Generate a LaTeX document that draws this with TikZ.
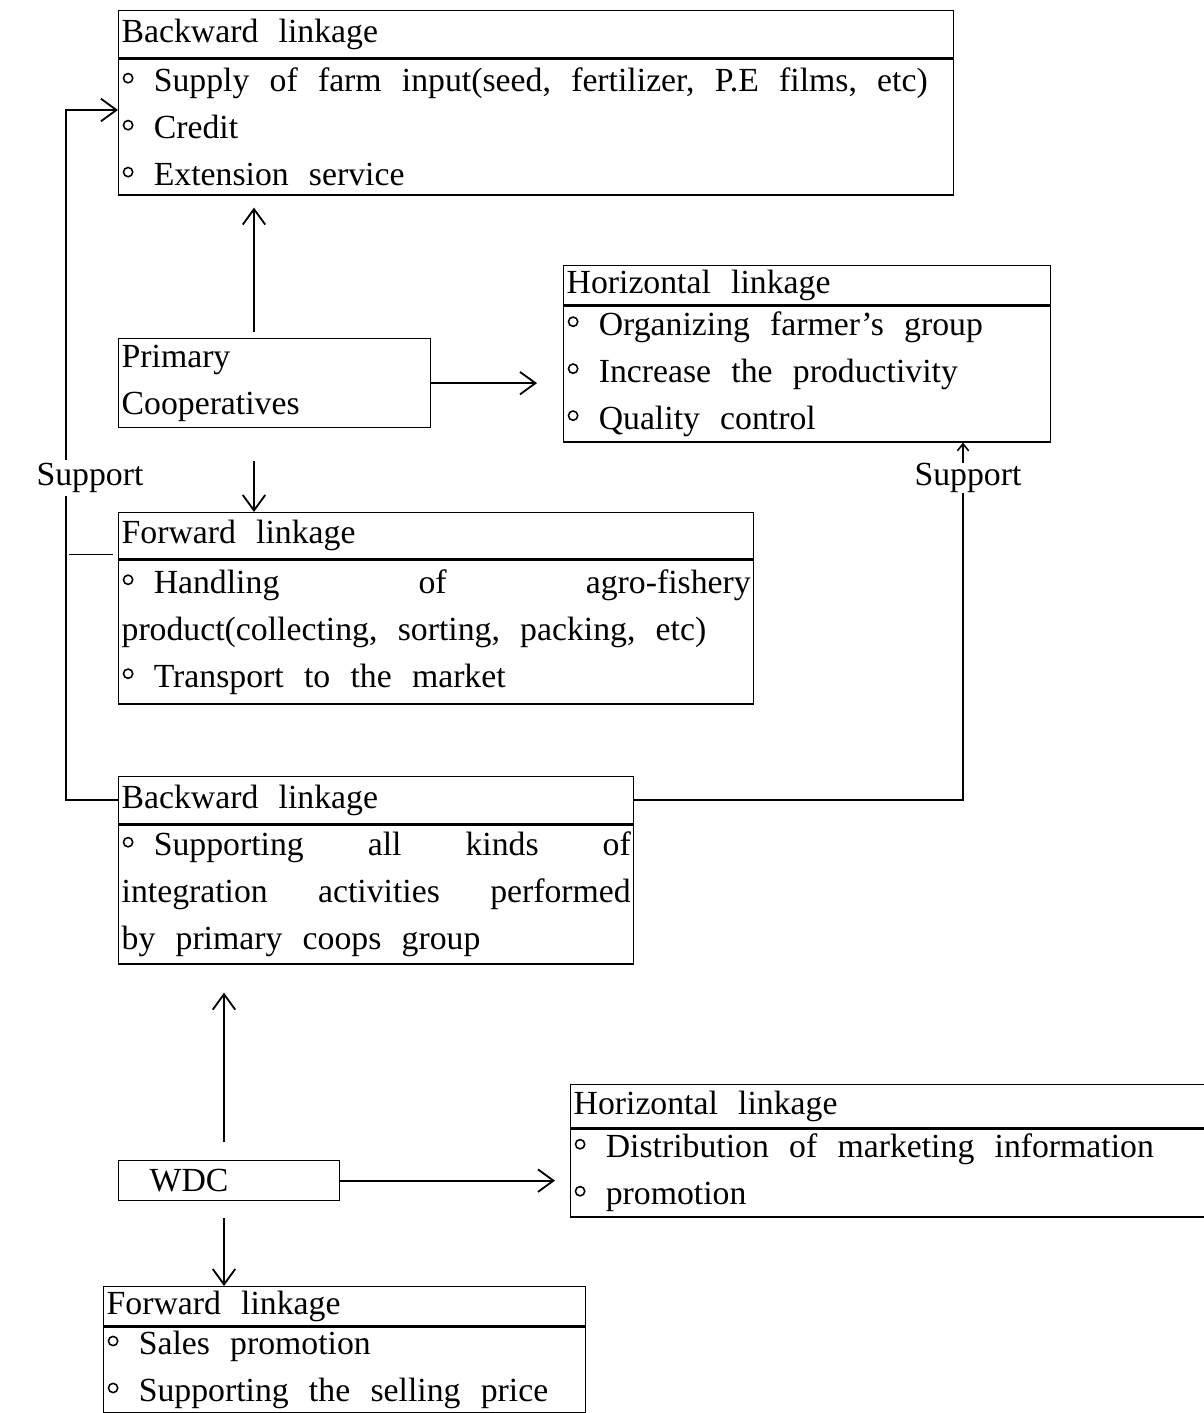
\documentclass[tikz,border=0pt]{standalone}
\usepackage{fontspec}
\setmainfont{Liberation Serif}
\usetikzlibrary{arrows.meta, positioning}
\newcommand{\bul}{\tikz[x=1pt, y=1pt, baseline=0pt]{\draw[line width=1.1pt] (4.6,9.6) circle[radius=3.3pt]; \path (0,0) -- (8.4,0);}}
\newcommand{\boxfont}{\fontsize{24}{33.4}\selectfont}
\newcommand{\widespace}{\spaceskip=0.6em plus 0.2em minus 0.1em\relax}

\begin{document}
\begin{tikzpicture}[x=0.025cm, y=-0.025cm,
    font=\boxfont, execute at begin node=\widespace,
    hd/.style={rectangle, draw, line width=0.9pt, text width=#1, align=left,
               inner xsep=0.075cm, inner ysep=0pt},
    bd/.style={hd=#1},
    conn/.style={line width=1.3pt},
    arr/.style={conn, -{Straight Barb[length=11pt, width=16pt, line width=1.3pt]}},
    arrs/.style={conn, -{Straight Barb[length=5pt, width=8pt, line width=1.1pt]}},
  ]
    \useasboundingbox (0,0) rectangle (1203,1413);

    % primary cooperatives level
    \node[hd=20.725cm, minimum height=1.175cm, anchor=north west] (bl1h) at (118,10)
      {Backward linkage};
    \node[bd=20.725cm, minimum height=3.4cm, below=0pt of bl1h] (bl1b)
      {\bul{} Supply of farm input(seed, fertilizer, P.E films, etc)\\
       \bul{} Credit\\
       \bul{} Extension service};

    \node[hd=12.025cm, minimum height=0.975cm, anchor=north west] (h1h) at (563,265)
      {Horizontal linkage};
    \node[bd=12.025cm, minimum height=3.4cm, below=0pt of h1h] (h1b)
      {\bul{} Organizing farmer's group\\
       \bul{} Increase the productivity\\
       \bul{} Quality control};

    \node[hd=7.65cm, minimum height=2.225cm, anchor=north west] (prim) at (118,338)
      {Primary\\Cooperatives};

    \node[hd=15.725cm, minimum height=1.15cm, anchor=north west] (f1h) at (118,512)
      {Forward linkage};
    \node[bd=15.725cm, minimum height=3.6cm, below=0pt of f1h] (f1b)
      {\bul{} Handling\hfill of\hfill agro-fishery\\
       product(collecting, sorting, packing, etc)\\
       \bul{} Transport to the market};

    % WDC level
    \node[hd=12.725cm, minimum height=1.175cm, anchor=north west] (b2h) at (118,776)
      {Backward linkage};
    \node[bd=12.725cm, minimum height=3.475cm, below=0pt of b2h] (b2b)
      {\bul{} Supporting\hfill all\hfill kinds\hfill of\\
       integration\hfill activities\hfill performed\\
       by primary coops group};

    \node[hd=5.375cm, minimum height=1cm, anchor=north west] (wdc) at (118,1160)
      {\hspace*{0.7cm}WDC};

    \node[hd=16.1cm, minimum height=1.075cm, anchor=north west] (h2h) at (570,1084)
      {Horizontal linkage};
    \node[bd=16.1cm, minimum height=2.2cm, below=0pt of h2h] (h2b)
      {\bul{} Distribution of marketing information\\
       \bul{} promotion};

    \node[hd=11.9cm, minimum height=0.975cm, anchor=north west] (f2h) at (103,1286)
      {Forward linkage};
    \node[bd=11.9cm, minimum height=2.15cm, below=0pt of f2h] (f2b)
      {\bul{} Sales promotion\\
       \bul{} Supporting the selling price};

    \node[inner sep=2pt] (sup1) at (90,478) {Support};
    \node[inner sep=0pt] (sup2) at (968,478) {Support};

    \coordinate (pa) at (254,0);
    \coordinate (wa) at (224,0);
    \coordinate (lx) at (66,110);
    \coordinate (rx) at (963,0);
    \coordinate (stub) at ([yshift=0.12cm]f1h.south west);

    % arrows from primary cooperatives
    \draw[arr, shorten <=0.15cm, shorten >=0.3cm] (prim.north -| pa) -- (bl1b.south -| pa);
    \draw[arr, shorten <=0.825cm] (prim.south -| pa) -- (f1h.north -| pa);
    \draw[arr, shorten >=0.65cm] (prim.east) -- (h1b.west |- prim.east);

    % support lines
    \draw[conn] (b2h.west) -| (sup1.south -| lx);
    \draw[arr] (sup1.north -| lx) -- (lx) -- (bl1b.west |- lx);
    \draw[conn, shorten <=0.075cm, shorten >=0.125cm] (stub -| lx) -- (stub);
    \draw[conn] (b2h.east) -| (sup2.south -| rx);
    \draw[arrs] (sup2.north -| rx) -- (h1b.south -| rx);

    % arrows from WDC
    \draw[arr, shorten <=0.45cm, shorten >=0.7cm] (wdc.north -| wa) -- (b2b.south -| wa);
    \draw[arr, shorten <=0.425cm] (wdc.south -| wa) -- (f2h.north -| wa);
    \draw[arr, shorten >=0.375cm] (wdc.east) -- (h2b.west |- wdc.east);
  \end{tikzpicture}
\end{document}
